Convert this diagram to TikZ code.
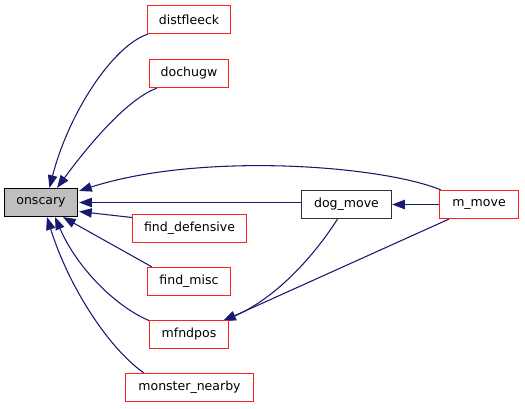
\documentclass[tikz,border=0pt]{standalone}
\usepackage{fontspec}
\setmainfont{DejaVu Sans}
\usetikzlibrary{arrows.meta,calc,backgrounds}
\definecolor{edgeblue}{HTML}{191970}
\definecolor{boxred}{HTML}{FF2020}
\tikzset{
  fn/.style={draw=boxred, line width=0.9pt, fill=white, inner sep=0pt, minimum height=21pt,
    font=\fontsize{9.4pt}{11pt}\selectfont, text=black},
  fnblack/.style={fn, draw=black!80},
  fncur/.style={fn, draw=black, fill=black!25},
  edge/.style={draw=edgeblue, line width=0.8pt, -{Triangle[length=9.5pt,width=7pt]}}
}
\begin{document}
\begin{tikzpicture}[x=0.75pt,y=-0.75pt]
\useasboundingbox (0,0) rectangle (525,408);
\node[fncur, minimum width=54.75pt] (onscary) at (41,202.5) {onscary};
\node[fn, minimum width=62.25pt] (distfleeck) at (189,19.5) {distfleeck};
\node[fn, minimum width=59.25pt] (dochugw) at (189,73.5) {dochugw};
\node[fn, minimum width=85.5pt] (finddef) at (189.5,228.5) {find\_defensive};
\node[fn, minimum width=62.25pt] (findmisc) at (189,281.5) {find\_misc};
\node[fn, minimum width=59.25pt] (mfndpos) at (189,334.5) {mfndpos};
\node[fn, minimum width=96pt] (nearby) at (189.5,387.5) {monster\_nearby};
\node[fnblack, minimum width=67.5pt] (dogmove) at (346.5,204.5) {dog\_move};
\node[fn, minimum width=59.25pt] (mmove) at (479,204.5) {m\_move};

\begin{scope}[on background layer]
\fill[white] (0,0) rectangle (525,408);
\draw[edge] ($(distfleeck.south west)+(1,0)$) .. controls (112,46) and (68,115) .. ($(onscary.north)+(8.5,0)$);
\draw[edge] ($(dochugw.south west)+(8,0)$) .. controls (125,100) and (85,150) .. ($(onscary.north)+(16,0)$);
\draw[edge] ($(mmove.north west)+(2,0)$) .. controls (380,165) and (200,152) .. ($(onscary.north east)+(1,3)$);
\draw[edge] ($(dogmove.west)+(0,-2)$) -- ($(onscary.east)+(1,0)$);
\draw[edge] ($(finddef.west)+(0,-11)$) -- ($(onscary.east)+(1,9)$);
\draw[edge] ($(findmisc.north west)+(5,0)$) -- ($(onscary.south)+(22,0)$);
\draw[edge] ($(mfndpos.north west)+(1,1)$) .. controls (118,308) and (78,270) .. ($(onscary.south)+(14,0)$);
\draw[edge] ($(nearby.north west)+(19,0)$) .. controls (108,348) and (68,285) .. ($(onscary.south)+(6,0)$);
\draw[edge] (mmove.west) -- (dogmove.east);
\draw[edge] ($(dogmove.south)+(-9,0)$) .. controls (310,262) and (272,300) .. ($(mfndpos.north east)+(-6,1)$);
\draw[edge] ($(mmove.south west)+(10,0)$) -- ($(mfndpos.north east)+(-6,1)$);
\end{scope}
\end{tikzpicture}
\end{document}
